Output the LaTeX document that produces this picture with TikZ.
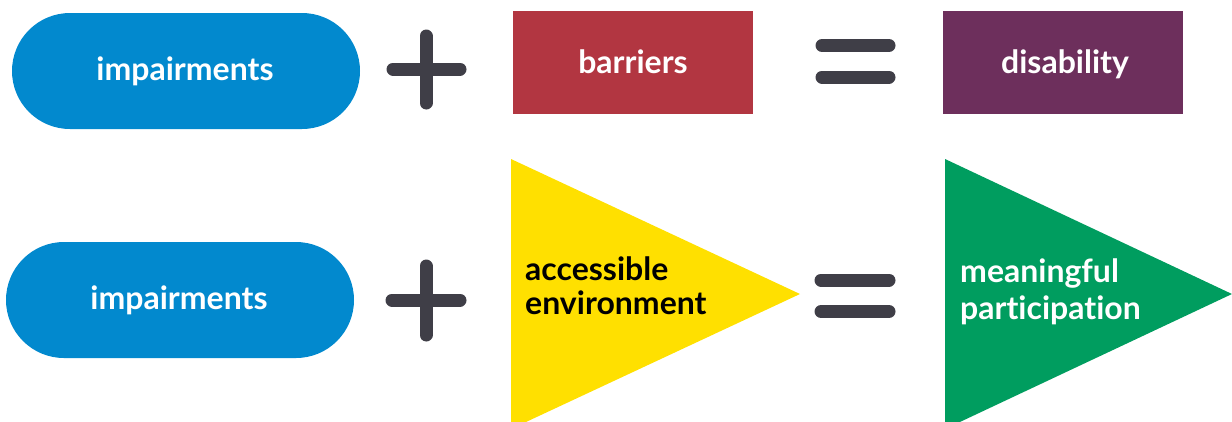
\documentclass[tikz,border=0pt]{standalone}
\usepackage{fontspec}
\setmainfont{Lato}[Ligatures=NoCommon]
\usetikzlibrary{shapes.misc}
\definecolor{cblue}{HTML}{0289CE}
\definecolor{cred}{HTML}{B23641}
\definecolor{cpurple}{HTML}{6D2F5C}
\definecolor{cgray}{HTML}{3F3E47}
\definecolor{cyellow}{HTML}{FFE000}
\definecolor{cgreen}{HTML}{009D5F}
\tikzset{
  pill/.style={rounded rectangle, fill=cblue, minimum width=348pt, minimum height=116pt, inner sep=0pt},
  box/.style={rectangle, minimum width=240pt, minimum height=103pt, inner sep=0pt},
  lbl/.style={font=\fontsize{32}{36}\selectfont\bfseries, inner sep=0pt},
  sym/.style={cgray, line width=13pt, line cap=round},
}
\begin{document}
\begin{tikzpicture}[x=1pt,y=-1pt]
\useasboundingbox (0,0) rectangle (1232,421);
% row 1
\node[pill] (imp1) at (186,71) {};
\node[lbl, text=white, anchor=base] (imp1t) at (185,80) {impairments};
\coordinate (p1t) at (426,36); \coordinate (p1b) at (426,103);
\coordinate (p1l) at (393,69); \coordinate (p1r) at (460,69);
\draw[sym] (p1t) -- (p1b);
\draw[sym] (p1l) -- (p1r);
\node[box, fill=cred] (bar) at (633,62.5) {};
\node[lbl, text=white, anchor=base] (bart) at (633,73) {barriers};
\coordinate (e1a) at (822,45.5); \coordinate (e1b) at (889,45.5);
\coordinate (e1c) at (822,77); \coordinate (e1d) at (889,77);
\draw[sym] (e1a) -- (e1b);
\draw[sym] (e1c) -- (e1d);
\node[box, fill=cpurple] (dis) at (1063,62.5) {};
\node[lbl, text=white, anchor=base] (dist) at (1065,73) {disability};
% row 2
\node[pill] (imp2) at (180,300) {};
\node[lbl, text=white, anchor=base] (imp2t) at (179,309) {impairments};
\coordinate (p2t) at (426,266); \coordinate (p2b) at (426,335);
\coordinate (p2l) at (392,300); \coordinate (p2r) at (460,300);
\draw[sym] (p2t) -- (p2b);
\draw[sym] (p2l) -- (p2r);
\fill[cyellow] (511,159) -- (800,294) -- (511,429) -- cycle;
\node[lbl, text=black, anchor=base west] (acc1) at (525,280) {accessible};
\node[lbl, text=black, anchor=base west] (acc2) at (525,314) {environment};
\coordinate (e2a) at (821,280); \coordinate (e2b) at (889,280);
\coordinate (e2c) at (821,311.5); \coordinate (e2d) at (889,311.5);
\draw[sym] (e2a) -- (e2b);
\draw[sym] (e2c) -- (e2d);
\fill[cgreen] (945,159) -- (1232,294) -- (945,429) -- cycle;
\node[lbl, text=white, anchor=base west] (mp1) at (960,282) {meaningful};
\node[lbl, text=white, anchor=base west] (mp2) at (960,319) {participation};
\end{tikzpicture}
\end{document}
